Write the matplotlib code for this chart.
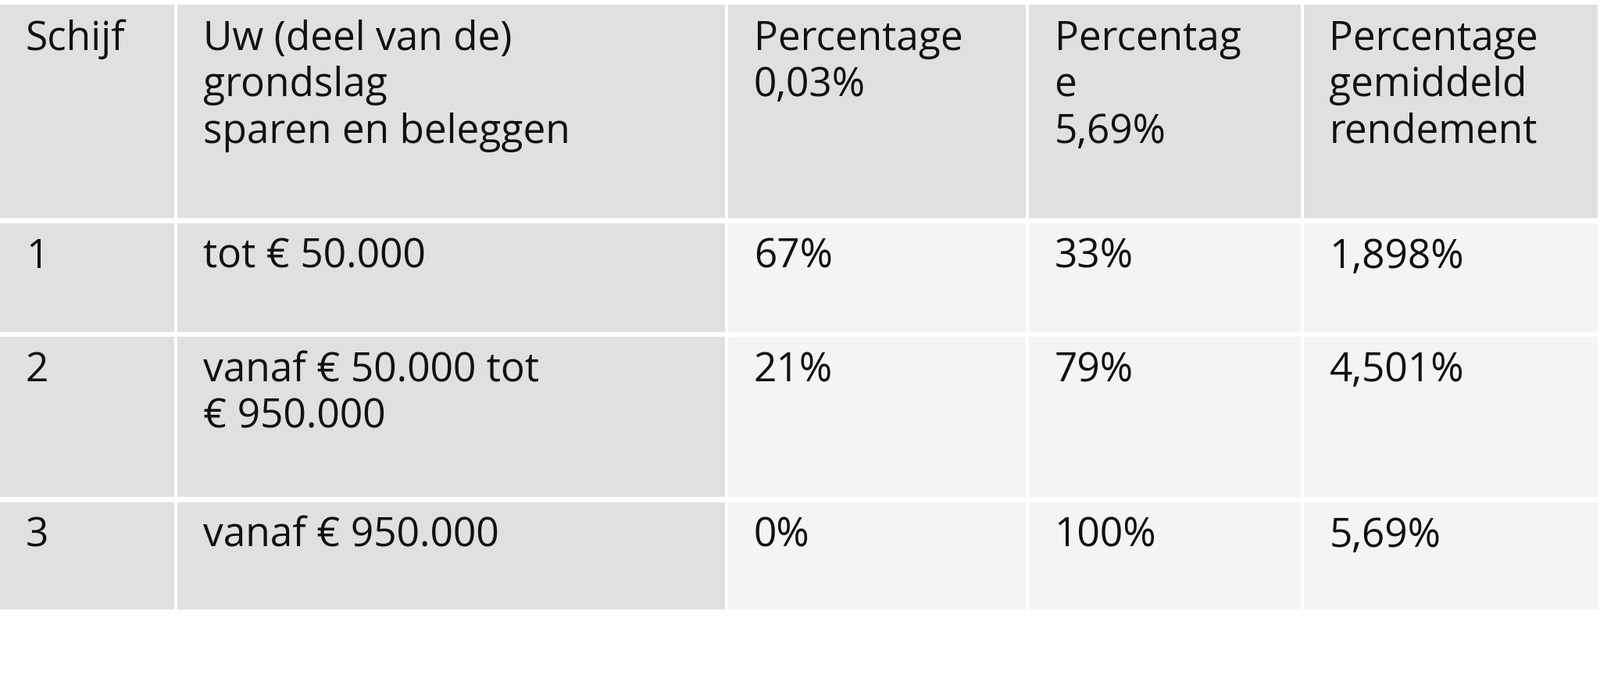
import matplotlib
matplotlib.use("Agg")
import matplotlib.pyplot as plt
from matplotlib.patches import Rectangle

headers = ["Schijf", "Uw (deel van de)\ngrondslag\nsparen en beleggen",
           "Percentage\n0,03%", "Percentag\ne\n5,69%", "Percentage\ngemiddeld\nrendement"]
schijf = ["1", "2", "3"]
grondslag = ["tot € 50.000", "vanaf € 50.000 tot\n€ 950.000", "vanaf € 950.000"]
pct_laag = ["67%", "21%", "0%"]
pct_hoog = ["33%", "79%", "100%"]
gemiddeld = ["1,898%", "4,501%", "5,69%"]

# layout in reference pixels (1560 x 690 view)
col_edges = [(0, 170), (173, 707), (710, 1000), (1003, 1268), (1271, 1558)]
row_edges = [(5, 215), (220, 327), (332, 490), (495, 601)]
dark = "#e0e0e0"
light = "#f4f4f4"

fig = plt.figure(figsize=(20.48, 8.96), dpi=100)
ax = fig.add_axes([0, 0, 1, 1])
ax.set_xlim(0, 1560)
ax.set_ylim(690, 0)
ax.axis("off")

rows = [headers] + [list(r) for r in zip(schijf, grondslag, pct_laag, pct_hoog, gemiddeld)]
for ri, (y0, y1) in enumerate(row_edges):
    for ci, (x0, x1) in enumerate(col_edges):
        color = dark if (ri == 0 or ci < 2) else light
        ax.add_patch(Rectangle((x0, y0), x1 - x0, y1 - y0, color=color, lw=0))
        ax.text(x0 + 25, y0 + 14, rows[ri][ci], ha="left", va="top",
                fontsize=37, family="Open Sans", color="#111111", linespacing=1.22)

fig.savefig("out.png", dpi=100)
